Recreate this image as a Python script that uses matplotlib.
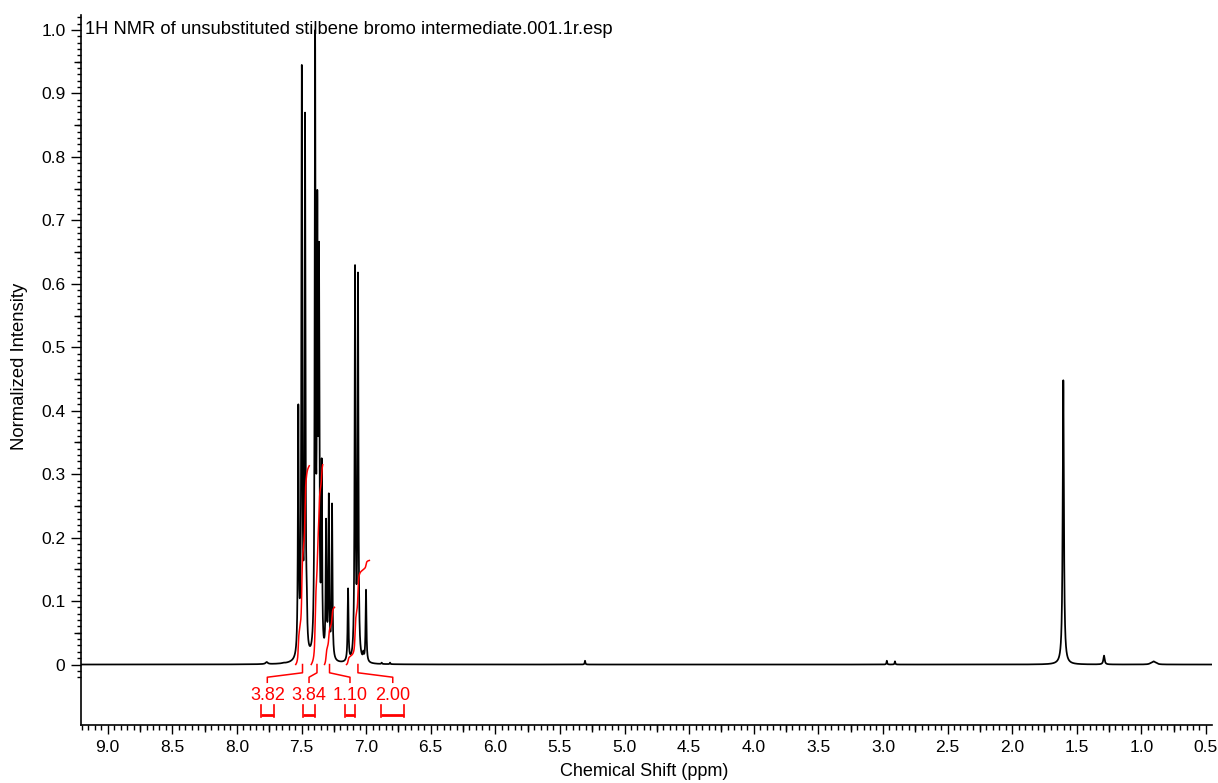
import numpy as np
import matplotlib.pyplot as plt
from matplotlib.ticker import MultipleLocator, FixedLocator, FormatStrFormatter

plt.rcParams['font.family'] = ['Liberation Sans', 'DejaVu Sans']

# peak list: shift (ppm), apex height, half width (ppm)
peak_ppm = [7.525, 7.498, 7.473, 7.460, 7.395, 7.378, 7.365, 7.344,
            7.310, 7.289, 7.264, 7.140, 7.086, 7.063, 7.022, 7.001,
            7.770, 7.640, 6.880, 6.815, 5.306, 2.970, 2.907,
            1.604, 1.289, 0.925, 0.905, 0.885]
peak_height = [0.41, 0.945, 0.87, 0.135, 1.0, 0.748, 0.666, 0.325,
               0.23, 0.27, 0.254, 0.12, 0.63, 0.618, 0.022, 0.118,
               0.004, 0.003, 0.003, 0.003, 0.006, 0.006, 0.005,
               0.448, 0.014, 0.003, 0.005, 0.003]
peak_hwhm = [0.0039] * 16 + [0.01, 0.01, 0.003, 0.003, 0.003, 0.003, 0.003,
                             0.0055, 0.006, 0.012, 0.012, 0.012]

# integration regions (ppm, from high to low field) and their values
int_start = [7.545, 7.425, 7.322, 7.152]
int_end = [7.440, 7.336, 7.245, 6.975]
int_value = [3.82, 3.84, 1.10, 2.00]
int_label_ppm = [7.765, 7.442, 7.125, 6.794]

# intensity units per integral unit for the integral traces
int_scale = 0.082

ppm = np.linspace(9.21, 0.45, 40000)
p = np.array(peak_ppm)
w = np.array(peak_hwhm)

# lorentzian amplitudes chosen so the summed trace hits the read apex heights
L = 1.0 / (1.0 + ((p[:, None] - p[None, :]) / w[None, :]) ** 2)
amp = np.linalg.solve(L, np.array(peak_height))
spec = (amp[None, :] / (1.0 + ((ppm[:, None] - p[None, :]) / w[None, :]) ** 2)).sum(axis=1)

fig = plt.figure(figsize=(12.18, 7.83), dpi=100)
ax = fig.add_axes([81 / 1218, 1 - 725 / 783, (1212 - 81) / 1218, (725 - 15) / 783])

ax.plot(ppm, spec, color='black', lw=1.25)

red = '#ff0000'
for a, b, val, lx in zip(int_start, int_end, int_value, int_label_ppm):
    m = (ppm <= a) & (ppm >= b)
    cum = np.cumsum(spec[m])
    cum = cum / cum[-1] * val * int_scale
    ax.plot(ppm[m], cum, color=red, lw=1.1)

    # leader from region to label
    cx = (a + b) / 2
    ax.plot([lx, lx, cx, cx], [-0.028, -0.020, -0.013, 0.0], color=red, lw=1.1)
    ax.text(lx, -0.056, f'{val:.2f}', color=red, fontsize=13, ha='center', va='baseline')

    # region bar under the label
    half = (a - b) / 2
    ax.plot([lx + half, lx - half], [-0.0796, -0.0796], color=red, lw=2.0, solid_capstyle='butt')
    ax.plot([lx + half, lx + half], [-0.064, -0.083], color=red, lw=1.2)
    ax.plot([lx - half, lx - half], [-0.064, -0.083], color=red, lw=1.2)

ax.set_xlim(9.207, 0.453)
ax.set_ylim(-0.0953, 1.0236)

for s in ['top', 'right']:
    ax.spines[s].set_visible(False)
for s in ['left', 'bottom']:
    ax.spines[s].set_linewidth(1.2)

ax.xaxis.set_major_locator(MultipleLocator(0.5))
ax.xaxis.set_minor_locator(MultipleLocator(0.05))
ax.xaxis.set_major_formatter(FormatStrFormatter('%.1f'))
ax.yaxis.set_major_locator(FixedLocator(np.round(np.arange(0, 1.01, 0.1), 2)))
ax.yaxis.set_minor_locator(FixedLocator(np.round(np.arange(-0.02, 1.021, 0.01), 2)))
ax.set_yticklabels(['0'] + [f'{v:.1f}' for v in np.arange(0.1, 1.01, 0.1)])

ax.tick_params(axis='x', which='major', length=6.7, width=1, labelsize=12.5, pad=4)
ax.tick_params(axis='x', which='minor', length=3.4, width=1)
ax.tick_params(axis='y', which='major', length=7.2, width=1, labelsize=12.5, pad=4)
ax.tick_params(axis='y', which='minor', length=2.9, width=1)

# mid-length ticks halfway between the majors
xmid = np.arange(9.25, 0.45, -0.5)
xmid = xmid[(xmid < 9.207) & (xmid > 0.453)]
ax.plot(xmid, np.zeros_like(xmid), ls='none', marker=3, ms=4.8, mew=1, color='black',
        transform=ax.get_xaxis_transform(), clip_on=False)
ymid = np.arange(0.05, 1.0, 0.1)
ax.plot(np.zeros_like(ymid), ymid, ls='none', marker=0, ms=4.8, mew=1, color='black',
        transform=ax.get_yaxis_transform(), clip_on=False)

fig.text(85 / 1218, 1 - 29 / 783, '1H NMR of unsubstituted stilbene bromo intermediate.001.1r.esp',
         fontsize=13.2, ha='left', va='center')
fig.text(644 / 1218, 1 - 771 / 783, 'Chemical Shift (ppm)', fontsize=13, ha='center', va='center')
fig.text(20 / 1218, 1 - 366 / 783, 'Normalized Intensity', fontsize=13.3, ha='center', va='center',
         rotation=90)

fig.savefig('out.png', dpi=100)
